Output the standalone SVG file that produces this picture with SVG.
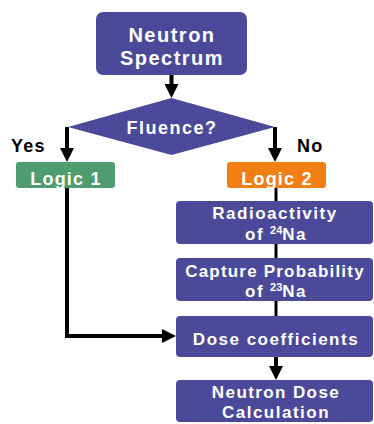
<svg xmlns="http://www.w3.org/2000/svg" width="374" height="424" viewBox="0 0 374 424">
<style>
.box{fill:#4B4A9A}
.t{fill:#fff;font-family:"Liberation Sans",Arial,sans-serif;font-weight:bold;font-size:17px;letter-spacing:1.4px;text-anchor:middle}
.lbl{fill:#000;font-family:"Liberation Sans",Arial,sans-serif;font-weight:bold;font-size:18px;letter-spacing:1.2px}
.c{fill:none;stroke:#000;stroke-width:4}
.sup{font-size:11px;letter-spacing:0}
</style>
<defs>
<marker id="ah" markerUnits="userSpaceOnUse" markerWidth="14" markerHeight="14" refX="0" refY="7" orient="auto">
<path d="M0,0 L14,7 L0,14 z" fill="#000"/>
</marker>
</defs>
<rect width="374" height="424" fill="#fff"/>
<g id="connectors">
<path class="c" d="M171.5,75 V84" marker-end="url(#ah)"/>
<path class="c" d="M67,127 V148" marker-end="url(#ah)"/>
<path class="c" d="M275,127 V148" marker-end="url(#ah)"/>
<path class="c" d="M67,188 V336 H162" marker-end="url(#ah)"/>
<path class="c" d="M276,188 V316" style="stroke-width:3"/>
<path class="c" d="M276,357 V366" marker-end="url(#ah)"/>
</g>
<g id="neutron-spectrum">
<rect class="box" x="96" y="12" width="151" height="63" rx="7"/>
<text class="t" x="172" y="42" style="font-size:20px;letter-spacing:1.5px">Neutron</text>
<text class="t" x="172" y="65" style="font-size:20px;letter-spacing:1.5px">Spectrum</text>
</g>
<g id="fluence">
<polygon class="box" points="171.5,98 275,127 171.5,155 68,127"/>
<text class="t" x="172" y="134" style="font-size:18px;letter-spacing:1.5px">Fluence?</text>
</g>
<g id="labels">
<text class="lbl" x="11" y="152">Yes</text>
<text class="lbl" x="297" y="152">No</text>
</g>
<g id="logic1">
<rect x="16" y="162" width="99" height="26" rx="3" fill="#4F9C71"/>
<text class="t" x="66" y="185" style="font-size:18px;letter-spacing:1.2px">Logic 1</text>
</g>
<g id="logic2">
<rect x="227" y="162" width="99" height="26" rx="3" fill="#F17F12"/>
<text class="t" x="277" y="185" style="font-size:18px;letter-spacing:1.2px">Logic 2</text>
</g>
<g id="radioactivity">
<rect class="box" x="176" y="201" width="197" height="43" rx="4"/>
<text class="t" x="275" y="219" style="letter-spacing:1.5px">Radioactivity</text>
<text class="t" x="276" y="240">of <tspan class="sup" dy="-6">24</tspan><tspan dy="6">Na</tspan></text>
</g>
<g id="capture">
<rect class="box" x="176" y="258" width="197" height="43" rx="4"/>
<text class="t" x="275" y="277" style="letter-spacing:1.2px">Capture Probability</text>
<text class="t" x="276" y="297">of <tspan class="sup" dy="-6">23</tspan><tspan dy="6">Na</tspan></text>
</g>
<g id="dose-coefficients">
<rect class="box" x="176" y="316" width="197" height="41" rx="4"/>
<text class="t" x="276" y="345" style="letter-spacing:1.5px">Dose coefficients</text>
</g>
<g id="neutron-dose">
<rect class="box" x="176" y="380" width="197" height="42" rx="4"/>
<text class="t" x="276" y="398">Neutron Dose</text>
<text class="t" x="276" y="418" style="letter-spacing:1.5px">Calculation</text>
</g>
</svg>
